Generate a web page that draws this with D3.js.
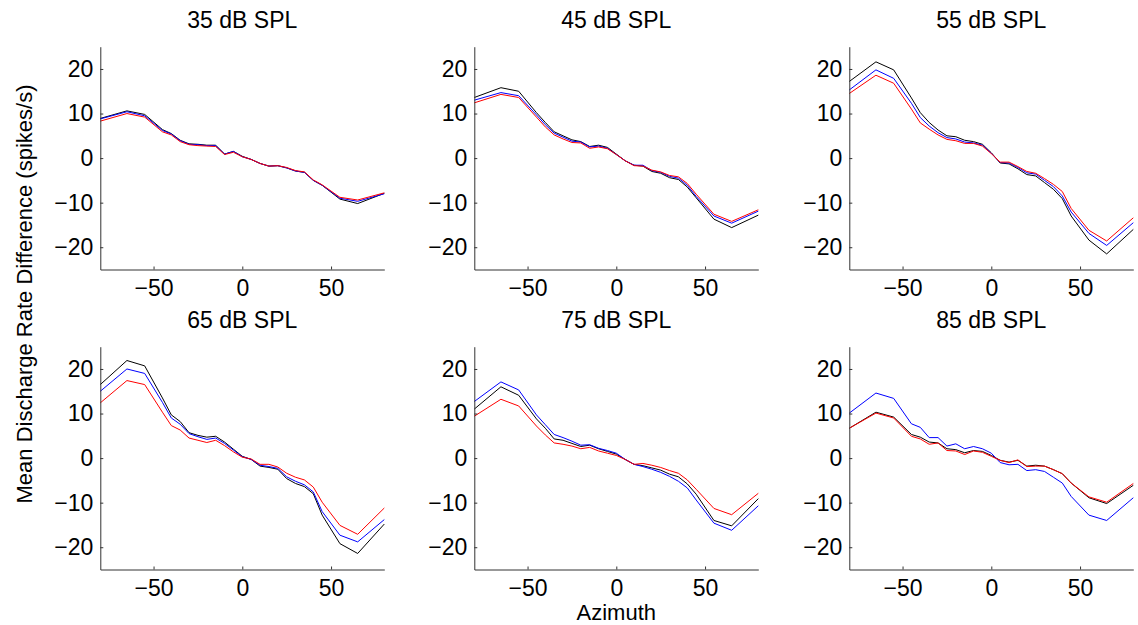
<!DOCTYPE html>
<html>
<head>
<meta charset="utf-8">
<script src="https://cdn.jsdelivr.net/npm/d3@7"></script>
<style>
  body { margin: 0; background: #fff; }
  svg { display: block; font-family: "Liberation Sans", Arial, sans-serif; }
</style>
</head>
<body>
<svg id="chart"></svg>
<script>
// azimuth positions (deg)
const azimuth = [-80, -65, -55, -45, -40, -35, -30, -25, -20, -15, -10, -5, 0, 5, 10, 15, 20, 25, 30, 35, 40, 45, 55, 65, 80];

const levels = ["35 dB SPL", "45 dB SPL", "55 dB SPL", "65 dB SPL", "75 dB SPL", "85 dB SPL"];
const xTicks = [-50, 0, 50];
const yTicks = [-20, -10, 0, 10, 20];

// 35 dB SPL
const spl35Black = [8.9, 10.6, 9.8, 6.4, 5.5, 4.0, 3.2, 3.1, 2.9, 2.9, 0.9, 1.5, 0.4, -0.3, -1.2, -1.8, -1.7, -2.2, -2.9, -3.2, -5.0, -6.1, -9.2, -10.2, -7.9];
const spl35Blue  = [8.8, 10.4, 9.5, 6.2, 5.4, 3.9, 3.1, 3.0, 2.8, 2.8, 0.9, 1.5, 0.3, -0.3, -1.2, -1.8, -1.7, -2.2, -2.9, -3.2, -5.0, -6.1, -9.0, -9.7, -8.0];
const spl35Red   = [8.3, 10.0, 9.2, 5.9, 5.2, 3.7, 3.0, 2.8, 2.7, 2.6, 0.8, 1.3, 0.3, -0.3, -1.2, -1.8, -1.7, -2.1, -2.8, -3.1, -4.9, -6.0, -8.8, -9.4, -7.8];
// 45 dB SPL
const spl45Black = [13.6, 15.8, 15.0, 10.2, 8.0, 5.9, 5.0, 4.1, 3.7, 2.6, 2.9, 2.4, 0.9, -0.6, -1.6, -1.8, -3.0, -3.4, -4.4, -4.8, -6.5, -8.9, -13.7, -15.6, -12.8];
const spl45Blue  = [13.0, 14.7, 14.0, 9.7, 7.5, 5.6, 4.7, 3.8, 3.6, 2.5, 2.7, 2.2, 0.8, -0.6, -1.6, -1.6, -2.8, -3.2, -4.1, -4.5, -6.1, -8.6, -13.0, -14.6, -11.9];
const spl45Red   = [12.4, 14.3, 13.6, 9.2, 7.0, 5.2, 4.3, 3.5, 3.4, 2.2, 2.5, 2.1, 0.8, -0.6, -1.7, -1.8, -2.7, -3.1, -3.9, -4.2, -5.7, -8.1, -12.6, -14.2, -11.6];
// 55 dB SPL
const spl55Black = [17.2, 21.6, 19.8, 13.5, 10.2, 8.0, 6.3, 5.0, 4.8, 4.0, 3.7, 3.1, 1.2, -1.1, -1.3, -2.4, -3.7, -4.0, -5.5, -7.0, -9.1, -13.0, -18.4, -21.5, -16.0];
const spl55Blue  = [15.3, 19.8, 17.9, 12.3, 9.1, 7.2, 5.7, 4.6, 4.3, 3.6, 3.4, 2.9, 1.1, -1.0, -1.1, -2.1, -3.3, -3.6, -5.0, -6.4, -8.5, -12.1, -16.9, -19.6, -14.5];
const spl55Red   = [14.5, 18.6, 16.8, 11.0, 7.9, 6.5, 5.2, 4.2, 3.9, 3.3, 3.3, 2.7, 1.0, -0.9, -0.9, -1.9, -3.0, -3.4, -4.6, -5.9, -7.5, -11.3, -16.2, -18.6, -13.4];
// 65 dB SPL
const spl65Black = [16.5, 21.9, 20.7, 13.5, 9.7, 8.2, 5.7, 5.1, 4.7, 4.9, 3.6, 2.0, 0.4, -0.3, -1.8, -2.1, -2.5, -4.6, -5.7, -6.4, -8.0, -12.8, -19.2, -21.4, -14.8];
const spl65Blue  = [15.0, 20.0, 19.0, 12.5, 9.0, 7.6, 5.5, 4.8, 4.2, 4.5, 3.3, 1.8, 0.3, -0.3, -1.6, -1.9, -2.3, -4.2, -5.2, -6.0, -7.6, -12.0, -17.3, -18.8, -13.8];
const spl65Red   = [12.4, 17.4, 16.5, 10.3, 7.3, 6.3, 4.5, 4.0, 3.5, 4.0, 2.8, 1.4, 0.2, -0.2, -1.4, -1.4, -2.0, -3.4, -4.3, -4.9, -6.5, -9.9, -15.1, -17.1, -11.2];
// 75 dB SPL
const spl75Black = [11.0, 16.0, 14.1, 8.8, 6.7, 4.3, 4.0, 3.3, 2.6, 2.9, 2.1, 1.5, 0.9, -0.3, -1.4, -1.7, -2.2, -2.7, -3.6, -4.2, -5.8, -8.1, -14.0, -15.2, -9.1];
const spl75Blue  = [12.7, 17.1, 15.3, 9.7, 7.5, 5.3, 4.6, 3.8, 2.9, 3.0, 2.2, 1.7, 1.1, -0.3, -1.4, -1.9, -2.5, -3.2, -4.1, -5.2, -6.7, -9.4, -14.6, -16.2, -10.7];
const spl75Red   = [9.4, 13.2, 11.7, 7.2, 5.2, 3.4, 3.1, 2.7, 2.1, 2.4, 1.6, 1.1, 0.6, -0.3, -1.4, -1.2, -1.6, -2.1, -2.8, -3.4, -4.9, -7.0, -11.3, -12.7, -7.9];
// 85 dB SPL
const spl85Black = [6.7, 10.3, 9.2, 5.3, 4.7, 3.6, 3.4, 2.1, 1.9, 1.2, 1.7, 1.5, 0.6, -0.5, -0.9, -0.5, -1.8, -1.6, -1.8, -2.6, -3.5, -5.6, -8.9, -10.2, -6.1];
const spl85Blue  = [10.1, 14.6, 13.4, 7.7, 6.9, 4.6, 4.6, 2.7, 3.2, 2.1, 2.6, 2.1, 1.1, -1.0, -1.5, -1.4, -2.8, -2.6, -3.0, -4.3, -5.6, -8.6, -12.8, -14.0, -8.9];
const spl85Red   = [6.7, 10.1, 9.0, 4.9, 4.3, 3.1, 3.4, 1.7, 1.6, 0.8, 1.6, 1.3, 0.4, -0.5, -1.0, -0.4, -1.9, -1.8, -1.8, -2.6, -3.5, -5.6, -8.7, -9.9, -5.7];

const panelSeries = [
  [spl35Black, spl35Blue, spl35Red],
  [spl45Black, spl45Blue, spl45Red],
  [spl55Black, spl55Blue, spl55Red],
  [spl65Black, spl65Blue, spl65Red],
  [spl75Black, spl75Blue, spl75Red],
  [spl85Black, spl85Blue, spl85Red]
];
const seriesColors = ["#000000", "#0000ff", "#ff0000"];

const width = 1138, height = 625;
const svg = d3.select("#chart").attr("width", width).attr("height", height);

const colLeft = [100.3, 474.3, 849.3];
const rowTop = [46.7, 346.7];
const pw = 284, ph = 222.8;
const fontSize = 23;

const x = d3.scaleLinear().domain([-80, 80]).range([0, pw]);
const y = d3.scaleLinear().domain([-25, 25]).range([ph, 0]);

const line = d3.line()
  .x((d, i) => x(azimuth[i]))
  .y(d => y(d));

levels.forEach((title, p) => {
  const g = svg.append("g")
    .attr("transform", `translate(${colLeft[p % 3]},${rowTop[Math.floor(p / 3)]})`);

  // series
  panelSeries[p].forEach((vals, s) => {
    g.append("path")
      .datum(vals)
      .attr("fill", "none")
      .attr("stroke", seriesColors[s])
      .attr("stroke-width", 1)
      .attr("d", line);
  });

  // axes, ticks inward
  const xAxis = g.append("g")
    .attr("transform", `translate(0,${ph})`)
    .call(d3.axisBottom(x).tickValues(xTicks).tickSizeInner(-3).tickSizeOuter(0).tickPadding(10));
  const yAxis = g.append("g")
    .call(d3.axisLeft(y).tickValues(yTicks).tickSizeInner(-3).tickSizeOuter(0).tickPadding(7));

  [xAxis, yAxis].forEach(a => {
    a.selectAll("path, line").attr("stroke", "#333").attr("stroke-width", 1);
    a.selectAll("text").attr("fill", "#000").style("font-size", fontSize + "px")
      .style("font-family", '"Liberation Sans", Arial, sans-serif');
  });

  g.append("text")
    .attr("x", pw / 2)
    .attr("y", -19)
    .attr("text-anchor", "middle")
    .style("font-size", fontSize + "px")
    .text(title);
});

svg.append("text")
  .attr("x", colLeft[1] + pw / 2)
  .attr("y", 620.3)
  .attr("text-anchor", "middle")
  .style("font-size", "22px")
  .text("Azimuth");

svg.append("text")
  .attr("transform", "translate(32,294) rotate(-90)")
  .attr("text-anchor", "middle")
  .style("font-size", "22px")
  .text("Mean Discharge Rate Difference (spikes/s)");
</script>
</body>
</html>
